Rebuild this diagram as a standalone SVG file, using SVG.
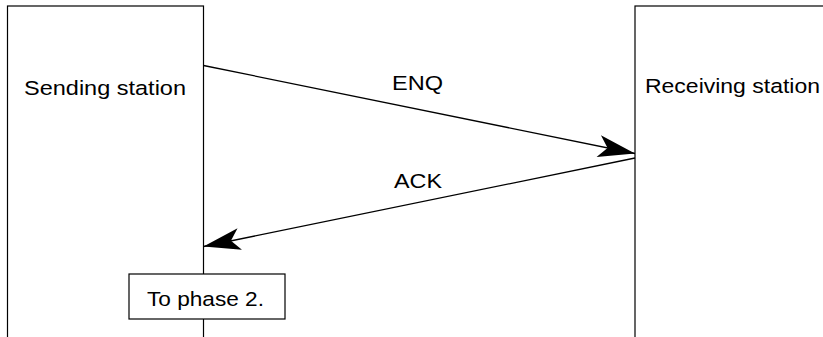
<svg xmlns="http://www.w3.org/2000/svg" width="823" height="337" viewBox="0 0 823 337">
<style>
.box{fill:#fff;stroke:#000;stroke-width:1.2}
.t{font-family:"Liberation Sans",Arial,sans-serif;font-size:20.5px;fill:#000}
.ln{stroke:#000;stroke-width:1.3;fill:none}
</style>
<defs>
<marker id="ah" markerUnits="userSpaceOnUse" markerWidth="42" markerHeight="26" viewBox="-40 -13 42 26" refX="0" refY="0" orient="auto">
<path d="M0,0 L-37,-11 L-28,0 L-37,11 Z" fill="#000"/>
</marker>
</defs>
<g id="sending">
<rect class="box" x="7.5" y="6" width="196" height="340"/>
<text class="t" x="24" y="95" textLength="162" lengthAdjust="spacingAndGlyphs">Sending station</text>
</g>
<g id="receiving">
<rect class="box" x="635" y="6" width="200" height="340"/>
<text class="t" x="645" y="93" textLength="175" lengthAdjust="spacingAndGlyphs">Receiving station</text>
</g>
<g id="connectors">
<line class="ln" x1="203.5" y1="65.5" x2="635" y2="153.5" marker-end="url(#ah)"/>
<line class="ln" x1="635" y1="158" x2="203.5" y2="246.5" marker-end="url(#ah)"/>
<text class="t" x="392" y="89.5" textLength="51" lengthAdjust="spacingAndGlyphs">ENQ</text>
<text class="t" x="394" y="188" textLength="48" lengthAdjust="spacingAndGlyphs">ACK</text>
</g>
<g id="phase2">
<rect class="box" x="129" y="274" width="156" height="45"/>
<text class="t" x="147" y="306" textLength="117" lengthAdjust="spacingAndGlyphs">To phase 2.</text>
</g>
</svg>
